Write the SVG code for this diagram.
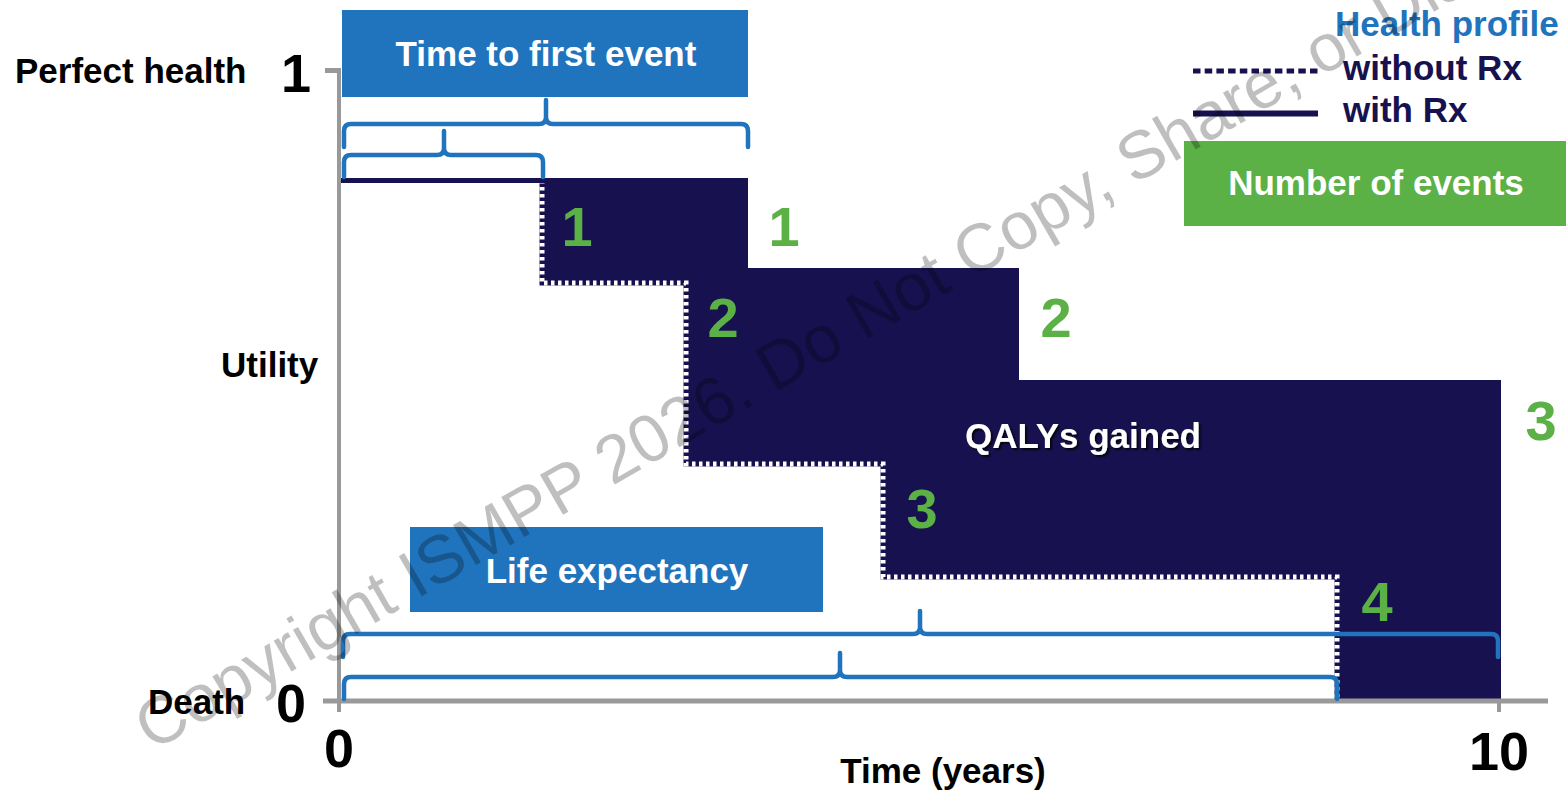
<svg xmlns="http://www.w3.org/2000/svg" width="1566" height="791" viewBox="0 0 1566 791">
<defs>
<style>
.t{font-family:"Liberation Sans",Arial,sans-serif;font-weight:bold;}
.lbl{font-size:35px;fill:#000;}
.dig{font-size:54px;fill:#000;}
.grn{font-size:56px;fill:#5bb046;text-anchor:middle;}
.box{fill:#1f74bd;}
.boxt{font-size:35px;fill:#fff;text-anchor:middle;}
.brace{fill:none;stroke:#1f74bd;stroke-width:4.5;stroke-linecap:round;stroke-linejoin:round;}
.axis{stroke:#999;fill:none;}
.navy{fill:#17124f;}
</style>
<filter id="sh" x="-10%" y="-30%" width="120%" height="160%">
<feDropShadow dx="2" dy="2" stdDeviation="1" flood-color="#000" flood-opacity="0.8"/>
</filter>
</defs>
<rect x="0" y="0" width="1566" height="791" fill="#fff"/>

<!-- QALY area between curves -->
<g id="qaly-area">
<path class="navy" d="M542,178 H748 V268 H1019 V380 H1501 V701 H1337 V577 H883 V464 H686 V283 H542 Z"/>
<path d="M542,180 V283 H686 V464 H883 V577 H1337 V701" fill="none" stroke="#17124f" stroke-width="5"/>
<path d="M542,180 V283 H686 V464 H883 V577 H1337 V701" fill="none" stroke="#fff" stroke-width="5" stroke-dasharray="3.5 3.5"/>
<path d="M340,180.5 H748" fill="none" stroke="#17124f" stroke-width="5"/>
<text class="t" x="1083" y="448" font-size="35" fill="#fff" text-anchor="middle" filter="url(#sh)">QALYs gained</text>
</g>

<!-- axes -->
<g id="axes">
<path class="axis" stroke-width="4" d="M339,70 V712"/>
<path class="axis" stroke-width="5" d="M325,70.5 H341"/>
<path class="axis" stroke-width="5" d="M323,701 H1548"/>
<path class="axis" stroke-width="4" d="M1499,701 V712"/>
</g>

<g id="y-labels">
<text class="t lbl" x="15" y="83">Perfect health</text>
<text class="t dig" x="296" y="92" text-anchor="middle">1</text>
<text class="t lbl" x="221" y="377">Utility</text>
<text class="t lbl" x="148" y="714">Death</text>
<text class="t dig" x="291" y="722" text-anchor="middle">0</text>
</g>

<g id="x-labels">
<text class="t dig" x="339" y="767" text-anchor="middle">0</text>
<text class="t dig" x="1499" y="770" text-anchor="middle">10</text>
<text class="t lbl" x="943" y="783" text-anchor="middle">Time (years)</text>
</g>

<g id="event-numbers">
<text class="t grn" x="577" y="246">1</text>
<text class="t grn" x="784" y="246">1</text>
<text class="t grn" x="723" y="337">2</text>
<text class="t grn" x="1056" y="337">2</text>
<text class="t grn" x="1541" y="440">3</text>
<text class="t grn" x="922" y="528">3</text>
<text class="t grn" x="1377" y="621">4</text>
</g>

<g id="box-time-to-first-event">
<rect class="box" x="342" y="10" width="406" height="87"/>
<text class="t boxt" x="546" y="66">Time to first event</text>
</g>

<g id="box-life-expectancy">
<rect class="box" x="410" y="527" width="413" height="85"/>
<text class="t boxt" x="617" y="583">Life expectancy</text>
</g>

<g id="box-number-of-events">
<rect x="1184" y="141" width="382" height="85" fill="#5bb046"/>
<text class="t boxt" x="1376" y="195">Number of events</text>
</g>

<g id="legend">
<text class="t" x="1335" y="36" font-size="35" fill="#1f74bd">Health profile</text>
<path d="M1193,71 H1318" stroke="#17124f" stroke-width="5" stroke-dasharray="7.5 4.2" fill="none"/>
<text class="t" x="1343" y="80" font-size="35" fill="#17124f">without Rx</text>
<path d="M1193,113.5 H1318" stroke="#17124f" stroke-width="6" fill="none"/>
<text class="t" x="1343" y="122" font-size="35" fill="#17124f">with Rx</text>
</g>

<g id="connectors">
<path class="brace" d="M344,147 V131 Q344,124 351,124 H539 Q546,124 546,117 V100 M546,117 Q546,124 553,124 H741 Q748,124 748,131 V147"/>
<path class="brace" d="M344,177 V162 Q344,155 351,155 H437 Q444,155 444,148 V131 M444,148 Q444,155 451,155 H536 Q543,155 543,162 V177"/>
<path class="brace" d="M343,657 V641 Q343,634 350,634 H913 Q920,634 920,627 V611 M920,627 Q920,634 927,634 H1491 Q1498,634 1498,641 V657"/>
<path class="brace" d="M344,699 V684 Q344,677 351,677 H833 Q840,677 840,670 V653 M840,670 Q840,677 847,677 H1330 Q1337,677 1337,684 V699"/>
</g>

<g id="watermark">
<text x="0" y="0" transform="translate(152,752) rotate(-30)" font-family="'Liberation Sans',Arial,sans-serif" font-size="67" fill="#000" fill-opacity="0.25">Copyright ISMPP 2026. Do Not Copy, Share, or Distribute</text>
</g>
</svg>
